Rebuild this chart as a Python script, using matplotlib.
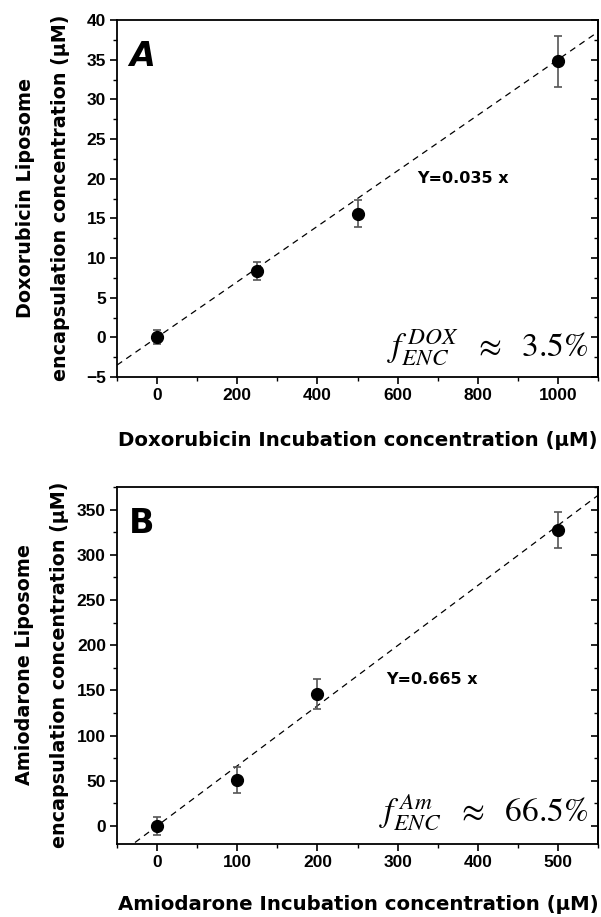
#!/usr/bin/env python3

import numpy as np
import matplotlib.pyplot as plt
from matplotlib.ticker import MultipleLocator

plt.rcParams['mathtext.fontset'] = 'stix'

# Panel A: doxorubicin
dox_x = [0, 250, 500, 1000]
dox_y = [0.0, 8.4, 15.6, 34.8]
dox_err = [0.9, 1.15, 1.7, 3.2]
dox_slope = 0.035

# Panel B: amiodarone
am_x = [0, 100, 200, 500]
am_y = [0.0, 51.0, 146.0, 327.0]
am_err = [10.0, 14.5, 16.5, 20.0]
am_slope = 0.665

W, H = 601, 917
fig = plt.figure(figsize=(W / 100, H / 100), dpi=100)
axA = fig.add_axes([117 / W, 1 - 377 / H, 481 / W, 357 / H])
axB = fig.add_axes([117 / W, 1 - 844 / H, 481 / W, 357 / H])

tick_font = {'family': 'Liberation Sans', 'weight': 'bold', 'size': 12.5}


def setup(ax, xs, ys, errs, slope, xlim, ylim, xmaj, xmin, ymaj, ymin):
    ax.errorbar(xs, ys, yerr=errs, fmt='o', color='black', markersize=8.5,
                ecolor='#555555', elinewidth=1.2, capsize=3.2, capthick=1.2, zorder=3)
    lx = np.array(xlim)
    ax.plot(lx, slope * lx, ls=(0, (5, 4)), color='black', lw=0.9, zorder=2)
    ax.set_xlim(*xlim)
    ax.set_ylim(*ylim)
    ax.xaxis.set_major_locator(MultipleLocator(xmaj))
    ax.xaxis.set_minor_locator(MultipleLocator(xmin))
    ax.yaxis.set_major_locator(MultipleLocator(ymaj))
    ax.yaxis.set_minor_locator(MultipleLocator(ymin))
    ax.tick_params(axis='x', which='both', direction='out', top=False)
    ax.tick_params(axis='y', which='both', direction='out', right=False)
    ax.tick_params(which='major', length=5, width=1.2, pad=3)
    ax.tick_params(which='minor', length=3, width=1.0)
    for sp in ax.spines.values():
        sp.set_linewidth(1.3)
    for lab in ax.get_xticklabels() + ax.get_yticklabels():
        lab.set_fontproperties(tick_font)
    # inward ticks on the right spine
    sec = ax.secondary_yaxis('right')
    sec.yaxis.set_major_locator(MultipleLocator(ymaj))
    sec.yaxis.set_minor_locator(MultipleLocator(ymin))
    sec.tick_params(which='both', direction='in', labelright=False)
    sec.tick_params(which='major', length=5, width=1.2)
    sec.tick_params(which='minor', length=3, width=1.0)
    sec.spines['right'].set_linewidth(1.3)


setup(axA, dox_x, dox_y, dox_err, dox_slope, (-100, 1100), (-5, 40), 200, 100, 5, 2.5)
setup(axB, am_x, am_y, am_err, am_slope, (-50, 550), (-20, 375), 100, 50, 50, 25)

# x labels
fig.text(358 / W, 1 - 440 / H, 'Doxorubicin Incubation concentration (μM)',
         fontsize=14.2, fontweight='bold', ha='center', va='center')
fig.text(358 / W, 1 - 905 / H, 'Amiodarone Incubation concentration (μM)',
         fontsize=14.2, fontweight='bold', ha='center', va='center')

# y labels (two lines)
fig.text(43 / W, 1 - 198 / H, 'Doxorubicin Liposome\nencapsulation concentration (μM)',
         fontsize=13.8, fontweight='bold', rotation=90, ha='center', va='center',
         linespacing=2.05)
fig.text(42 / W, 1 - 665 / H, 'Amiodarone Liposome\nencapsulation concentration (μM)',
         fontsize=13.8, fontweight='bold', rotation=90, ha='center', va='center',
         linespacing=2.05)

# panel letters
axA.text(0.025, 0.945, 'A', transform=axA.transAxes, fontsize=24, fontweight='bold',
         fontstyle='italic', va='top', ha='left')
axB.text(0.025, 0.945, 'B', transform=axB.transAxes, fontsize=24, fontweight='bold',
         va='top', ha='left')

# fit equations
axA.text(0.625, 0.555, 'Y=0.035 x', transform=axA.transAxes, fontsize=11.5,
         fontweight='bold', va='center', ha='left')
axB.text(0.56, 0.46, 'Y=0.665 x', transform=axB.transAxes, fontsize=11.5,
         fontweight='bold', va='center', ha='left')

# encapsulation fractions
axA.text(0.98, 0.085, r'$f_{ENC}^{\,DOX}\ \ \approx\ \ 3.5\%$', transform=axA.transAxes,
         fontsize=24, va='center', ha='right')
axB.text(0.98, 0.09, r'$f_{ENC}^{\,Am}\ \ \approx\ \ 66.5\%$', transform=axB.transAxes,
         fontsize=24, va='center', ha='right')

fig.savefig('out.png', dpi=100)
